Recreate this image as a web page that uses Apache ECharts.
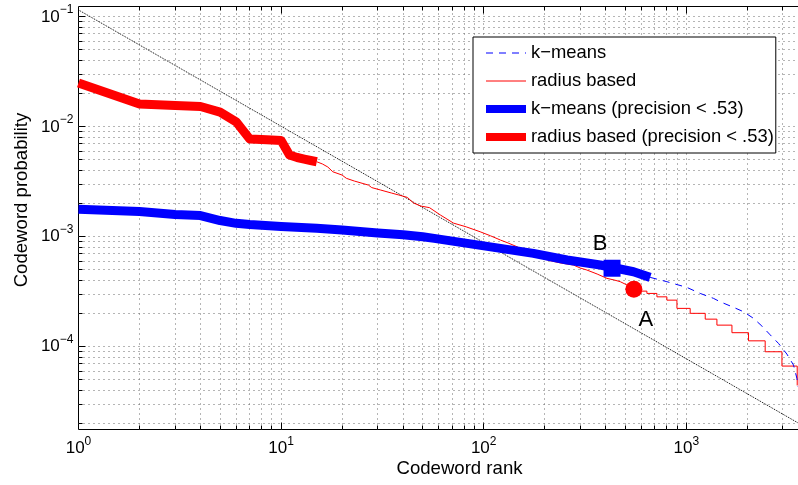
<!DOCTYPE html>
<html>
<head>
<meta charset="utf-8">
<script src="https://cdn.jsdelivr.net/npm/echarts@6/dist/echarts.min.js"></script>
<style>
  html, body { margin: 0; padding: 0; background: #fff; }
  #chart { width: 798px; height: 485px; }
</style>
</head>
<body>
<div id="chart"></div>
<script>
const FONT = '"Liberation Sans", Arial, Helvetica, sans-serif';

// Axis extents (both axes logarithmic)
const xRange = [1, 3620];
const yRange = [1.764e-5, 0.1243];

// Grid / tick positions
const xGridValues = [2, 3, 4, 5, 6, 7, 8, 9, 10, 20, 30, 40, 50, 60, 70, 80, 90,
  100, 200, 300, 400, 500, 600, 700, 800, 900, 1000, 2000, 3000];
const yGridValues = [2e-5, 3e-5, 4e-5, 5e-5, 6e-5, 7e-5, 8e-5, 9e-5,
  1e-4, 2e-4, 3e-4, 4e-4, 5e-4, 6e-4, 7e-4, 8e-4, 9e-4,
  1e-3, 2e-3, 3e-3, 4e-3, 5e-3, 6e-3, 7e-3, 8e-3, 9e-3,
  1e-2, 2e-2, 3e-2, 4e-2, 5e-2, 6e-2, 7e-2, 8e-2, 9e-2, 1e-1];

// Reference power-law line
const zipfRanks = [1, 3620];
const zipfProb = [0.1156, 1.99e-5];

// Radius based clustering: codewords with precision < .53
const radiusHeadRanks = [1, 2, 3, 4, 5, 6, 7, 8, 9, 10, 11, 12, 13, 14, 15];
const radiusHeadProb = [0.0250, 0.0161, 0.0156, 0.0153, 0.0136, 0.0111, 0.00774, 0.00766,
  0.00759, 0.00751, 0.00554, 0.00526, 0.00509, 0.00494, 0.00481];
// Radius based clustering: remaining codewords (flat runs share a probability)
const radiusTailRanks = [16, 17, 18, 20, 21, 23, 27, 28, 31, 35, 38, 42, 45, 49, 54, 61, 71, 82,
  96, 108, 121, 132, 146, 160, 176, 192, 213, 241, 277, 300, 323, 363, 406, 441, 472, 511, 553,
  599, 599, 639, 639, 716, 716, 802, 802, 899, 899, 1045, 1045, 1240, 1240, 1416, 1416,
  1680, 1680, 2028, 2028, 2451, 2451, 2965, 2965, 3527, 3527];
const radiusTailProb = [0.00459, 0.00431, 0.00390, 0.00364, 0.00340, 0.00321, 0.00295, 0.00280,
  0.00266, 0.00250, 0.00240, 0.00228, 0.00203, 0.00190, 0.00184, 0.00158, 0.00133, 0.00123,
  0.00111, 0.00102, 0.000933, 0.000877, 0.000811, 0.000741, 0.000682, 0.000640, 0.000605,
  0.000576, 0.000553, 0.000519, 0.000498, 0.000458, 0.000418, 0.000404, 0.000390, 0.000363,
  0.000334,
  0.000334, 0.000320, 0.000320, 0.000305, 0.000305, 0.000284, 0.000284, 0.000265,
  0.000265, 0.000223, 0.000223, 0.000201, 0.000201, 0.000178, 0.000178, 0.000157,
  0.000157, 0.000134, 0.000134, 0.000113, 0.000113, 0.0000899, 0.0000899, 0.0000666,
  0.0000666, 0.0000444];

// k-means: codewords with precision < .53
const kmeansHeadRanks = [1, 2, 3, 4, 5, 6, 7, 8, 10, 15, 20, 30, 40, 50, 57, 83, 121, 176, 258,
  376, 549, 663];
const kmeansHeadProb = [0.001775, 0.001695, 0.001592, 0.001559, 0.001404, 0.001324, 0.001291,
  0.001272, 0.001238, 0.001192, 0.001151, 0.00108, 0.001043, 0.000998, 0.000967, 0.000871,
  0.000784, 0.000706, 0.000614, 0.000553, 0.00048, 0.000427];
// k-means: remaining codewords
const kmeansTailRanks = [802, 1007, 1171, 1362, 1470, 1710, 1916, 2146, 2361, 2595, 2852, 3137,
  3382, 3515, 3567];
const kmeansTailProb = [0.000390, 0.000346, 0.000305, 0.000275, 0.000256, 0.000228, 0.000208,
  0.000181, 0.000154, 0.000128, 0.000107, 0.0000856, 0.000068, 0.0000515, 0.0000432];

// Highlighted codewords
const pointB = [430, 5.17e-4];
const pointA = [551, 3.33e-4];

const legendNames = ['k−means', 'radius based', 'k−means (precision < .53)', 'radius based (precision < .53)'];

const BLUE = '#0000ff';
const RED = '#ff0000';
const GRID_COLOR = '#6a6a6a';
const THICK = 9;
const DASH = [7, 6];

const zip = (xs, ys) => xs.map((x, i) => [x, ys[i]]);
const last = arr => arr[arr.length - 1];
const isDecade = v => { const e = Math.log10(v); return Math.abs(e - Math.round(e)) < 1e-9; };
const crisp = v => Math.floor(v) + 0.5;

function powerLabel(v) {
  const e = Math.log10(v);
  const r = Math.round(e);
  if (Math.abs(e - r) > 1e-6) return '';
  return '{b|10}{s|' + (r < 0 ? '\u2212' + (-r) : String(r)) + '}';
}
const labelRich = {
  b: { fontFamily: FONT, fontSize: 17, color: '#000', lineHeight: 26, verticalAlign: 'middle' },
  s: { fontFamily: FONT, fontSize: 12, color: '#000', lineHeight: 14, verticalAlign: 'top' }
};

const chart = echarts.init(document.getElementById('chart'), null, { renderer: 'canvas' });

chart.setOption({
  animation: false,
  backgroundColor: '#fff',
  grid: {
    left: 78.5, top: 6.5, width: 721, height: 423,
    show: true, borderColor: '#000', borderWidth: 1, backgroundColor: 'transparent',
    containLabel: false, outerBoundsMode: 'none'
  },
  xAxis: {
    type: 'log', logBase: 10, min: xRange[0], max: xRange[1],
    axisLine: { show: false }, axisTick: { show: false }, splitLine: { show: false },
    axisLabel: { formatter: powerLabel, rich: labelRich, margin: 6, showMaxLabel: false }
  },
  yAxis: {
    type: 'log', logBase: 10, min: yRange[0], max: yRange[1],
    axisLine: { show: false }, axisTick: { show: false }, splitLine: { show: false },
    axisLabel: { formatter: powerLabel, rich: labelRich, margin: 5, showMinLabel: false }
  },
  legend: {
    data: [
      { name: legendNames[0], lineStyle: { color: BLUE, width: 1.2, type: DASH } },
      { name: legendNames[1], lineStyle: { color: RED, width: 1 } },
      { name: legendNames[2], lineStyle: { color: BLUE, width: 8 } },
      { name: legendNames[3], lineStyle: { color: RED, width: 8 } }
    ],
    orient: 'vertical', left: 473, top: 37,
    itemWidth: 40, itemHeight: 14, itemGap: 10,
    padding: [7, 2, 7, 9],
    backgroundColor: '#fff', borderColor: '#000', borderWidth: 1, borderRadius: 0,
    selectedMode: false,
    itemStyle: { opacity: 0 },
    textStyle: { fontFamily: FONT, fontSize: 18.4, color: '#000' }
  },
  graphic: [
    {
      type: 'text', x: 459.5, y: 468.7, silent: true,
      style: { text: 'Codeword rank', fontFamily: FONT, fontSize: 18.6, fill: '#000',
        align: 'center', verticalAlign: 'middle' }
    },
    {
      type: 'text', x: 22, y: 200, rotation: Math.PI / 2, silent: true,
      style: { text: 'Codeword probability', fontFamily: FONT, fontSize: 18.6, fill: '#000',
        align: 'center', verticalAlign: 'middle' }
    }
  ],
  series: [
    {
      // vertical grid lines with inward ticks on bottom and top edges
      type: 'custom', name: 'xgrid', silent: true, z: 1,
      data: xGridValues.map(v => [v, yRange[0]]),
      renderItem: (params, api) => {
        const v = api.value(0);
        const a = api.coord([v, yRange[0]]);
        const b = api.coord([v, yRange[1]]);
        const x = crisp(a[0]);
        const t = isDecade(v) ? 7 : 4;
        return {
          type: 'group', children: [
            { type: 'line', shape: { x1: x, y1: a[1], x2: x, y2: b[1] },
              style: { stroke: GRID_COLOR, lineWidth: 1, lineDash: [1, 4] } },
            { type: 'line', shape: { x1: x, y1: a[1], x2: x, y2: a[1] - t },
              style: { stroke: '#000', lineWidth: 1 } },
            { type: 'line', shape: { x1: x, y1: b[1], x2: x, y2: b[1] + t },
              style: { stroke: '#000', lineWidth: 1 } }
          ]
        };
      }
    },
    {
      // horizontal grid lines with inward ticks on the left edge
      type: 'custom', name: 'ygrid', silent: true, z: 1,
      data: yGridValues.map(v => [xRange[0], v]),
      renderItem: (params, api) => {
        const v = api.value(1);
        const a = api.coord([xRange[0], v]);
        const b = api.coord([xRange[1], v]);
        const y = crisp(a[1]);
        const t = isDecade(v) ? 7 : 4;
        return {
          type: 'group', children: [
            { type: 'line', shape: { x1: a[0], y1: y, x2: b[0], y2: y },
              style: { stroke: GRID_COLOR, lineWidth: 1, lineDash: [1, 4] } },
            { type: 'line', shape: { x1: a[0], y1: y, x2: a[0] + t, y2: y },
              style: { stroke: '#000', lineWidth: 1 } }
          ]
        };
      }
    },
    {
      type: 'line', name: 'power law', z: 2, silent: true,
      data: zip(zipfRanks, zipfProb), symbol: 'none',
      lineStyle: { color: '#000', width: 1, type: [1, 1] }
    },
    {
      type: 'line', name: legendNames[1], z: 3,
      data: zip([last(radiusHeadRanks)].concat(radiusTailRanks),
                [last(radiusHeadProb)].concat(radiusTailProb)),
      symbol: 'none', color: RED,
      lineStyle: { color: RED, width: 1 }
    },
    {
      type: 'line', name: legendNames[0], z: 3,
      data: zip([last(kmeansHeadRanks)].concat(kmeansTailRanks),
                [last(kmeansHeadProb)].concat(kmeansTailProb)),
      symbol: 'none', color: BLUE,
      lineStyle: { color: BLUE, width: 1, type: DASH }
    },
    {
      type: 'line', name: legendNames[2], z: 4,
      data: zip(kmeansHeadRanks, kmeansHeadProb),
      symbol: 'none', color: BLUE,
      lineStyle: { color: BLUE, width: THICK, join: 'round' }
    },
    {
      type: 'line', name: legendNames[3], z: 4,
      data: zip(radiusHeadRanks, radiusHeadProb),
      symbol: 'none', color: RED,
      lineStyle: { color: RED, width: THICK, join: 'round' }
    },
    {
      type: 'scatter', name: 'B', z: 5, silent: true,
      data: [pointB], symbol: 'rect', symbolSize: 17,
      itemStyle: { color: BLUE, opacity: 1 },
      label: { show: true, formatter: 'B', position: 'inside', offset: [-12, -24],
        fontFamily: FONT, fontSize: 22, color: '#000' }
    },
    {
      type: 'scatter', name: 'A', z: 5, silent: true,
      data: [pointA], symbol: 'circle', symbolSize: 17,
      itemStyle: { color: RED, opacity: 1 },
      label: { show: true, formatter: 'A', position: 'inside', offset: [12, 31],
        fontFamily: FONT, fontSize: 22, color: '#000' }
    }
  ]
});
</script>
</body>
</html>
